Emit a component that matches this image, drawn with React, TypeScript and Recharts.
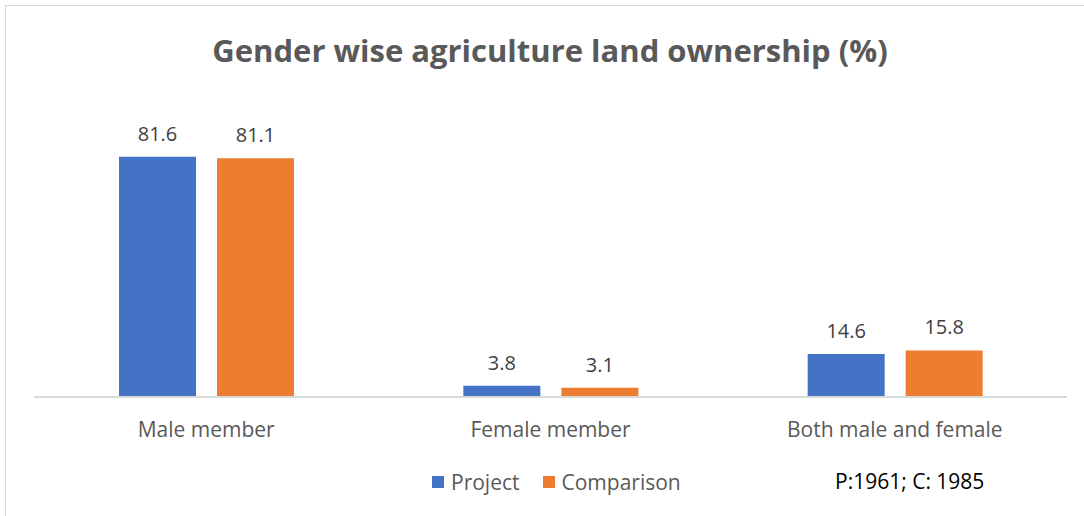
import React from 'react';
import { BarChart, Bar, XAxis, YAxis, LabelList, Legend } from 'recharts';

const categories = ['Male member', 'Female member', 'Both male and female'];
const projectValues = [81.6, 3.8, 14.6];
const comparisonValues = [81.1, 3.1, 15.8];
const seriesNames = ['Project', 'Comparison'];
const seriesColors = ['#4472C4', '#ED7D31'];

const data = categories.map((name, i) => ({
  name,
  project: projectValues[i],
  comparison: comparisonValues[i],
}));

const FONT = '"Open Sans", "Noto Sans", sans-serif';

function LegendContent() {
  return (
    <div style={{ display: 'flex', alignItems: 'center', fontFamily: FONT, fontSize: 21, color: '#595959' }}>
      {seriesNames.map((s, i) => (
        <div key={s} style={{ display: 'flex', alignItems: 'center', marginRight: 23 }}>
          <span style={{ width: 12, height: 12, background: seriesColors[i], display: 'inline-block', marginRight: 7 }} />
          <span>{s}</span>
        </div>
      ))}
    </div>
  );
}

export default function App() {
  return (
    <div
      style={{
        position: 'fixed',
        left: 0,
        top: 0,
        width: 1084,
        height: 516,
        background: '#fff',
        overflow: 'hidden',
        fontFamily: FONT,
      }}
    >
      <div
        style={{
          position: 'absolute',
          left: 5,
          top: 5,
          width: 1079,
          height: 511,
          borderTop: '1px solid #d9d9d9',
          borderLeft: '1px solid #d9d9d9',
          boxSizing: 'border-box',
        }}
      />
      <div
        style={{
          position: 'absolute',
          left: 0,
          top: 28,
          width: 1100,
          textAlign: 'center',
          fontSize: 31,
          fontWeight: 700,
          color: '#595959',
          lineHeight: '44px',
        }}
      >
        Gender wise agriculture land ownership (%)
      </div>
      <div style={{ position: 'absolute', left: 0, top: 0 }}>
        <BarChart
          width={1084}
          height={516}
          data={data}
          margin={{ top: 132, right: 17, left: 34, bottom: 89 }}
          barSize={77}
          barGap={21}
        >
          <XAxis
            dataKey="name"
            axisLine={{ stroke: '#d9d9d9', strokeWidth: 2 }}
            tickLine={false}
            tickMargin={19}
            height={30}
            tick={{ fill: '#595959', fontSize: 21, fontFamily: FONT }}
          />
          <YAxis hide domain={[0, 90]} />
          <Legend
            verticalAlign="middle"
            wrapperStyle={{ top: 468, left: 432, width: 'auto' }}
            content={() => <LegendContent />}
          />
          <Bar dataKey="project" name={seriesNames[0]} fill={seriesColors[0]} isAnimationActive={false}>
            <LabelList dataKey="project" position="top" offset={16} fill="#404040" fontSize={20} fontFamily={FONT} />
          </Bar>
          <Bar dataKey="comparison" name={seriesNames[1]} fill={seriesColors[1]} isAnimationActive={false}>
            <LabelList dataKey="comparison" position="top" offset={16} fill="#404040" fontSize={20} fontFamily={FONT} />
          </Bar>
        </BarChart>
      </div>
      <div
        style={{
          position: 'absolute',
          left: 835,
          top: 467,
          fontSize: 21,
          color: '#000',
          lineHeight: '28px',
        }}
      >
        P:1961; C: 1985
      </div>
    </div>
  );
}
